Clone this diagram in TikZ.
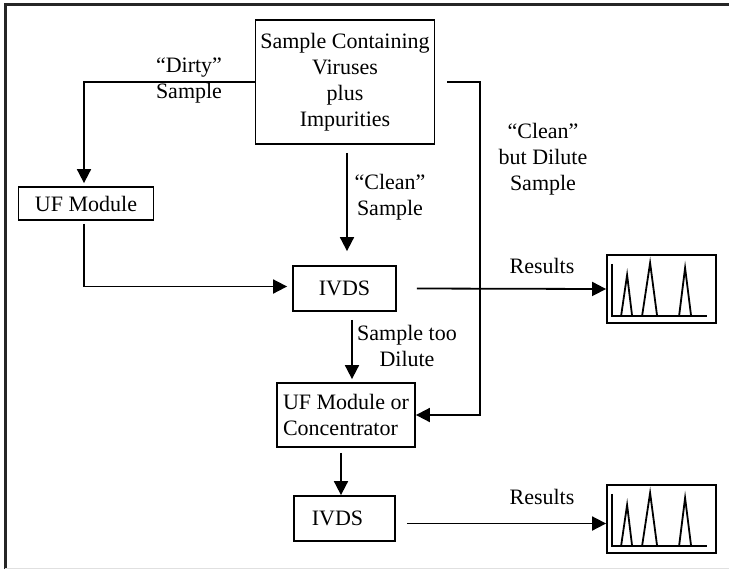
\documentclass[tikz,border=0pt]{standalone}
\usepackage{fontspec}
\setmainfont{Liberation Serif}
\usetikzlibrary{positioning,calc,arrows.meta}

\begin{document}
\begin{tikzpicture}[x=0.5pt,y=-0.5pt,
    box/.style={draw,line width=0.9pt,inner sep=0pt,font=\fontsize{11}{13}\selectfont,align=center},
    flow/.style={line width=0.9pt,-{Triangle[length=7pt,width=7pt]}},
    wire/.style={line width=0.9pt},
    lbl/.style={font=\fontsize{11}{13}\selectfont,align=center,inner sep=0pt}]
    \useasboundingbox (0,0) rectangle (729,569);
    % frame
    \draw[line width=1.5pt,black!85] (5,569) -- (5,4) -- (729,4);
    \draw[black!12] (5,568) -- (729,568);
    % boxes
    \node[box,minimum width=89.5pt,minimum height=62pt] (sample) at (345,82)
        {Sample Containing\\Viruses\\plus\\Impurities};
    \node[box,minimum width=67.5pt,minimum height=16.5pt] (ufa) at (86,203.5) {UF Module};
    \node[box,minimum width=51.5pt,minimum height=22.5pt] (ivdsa) at (344.5,288.5) {IVDS};
    \node[box,align=left,minimum width=69pt,minimum height=32pt] (ufb) at (346,415)
        {UF Module or\\Concentrator};
    \node[box,minimum width=50.5pt,minimum height=22.5pt] (ivdsb) at (344.5,518.5) {\hspace*{-7pt}IVDS};
    \node[box,minimum width=54.5pt,minimum height=34pt] (charta) at (661.5,289) {};
    \node[box,minimum width=54.5pt,minimum height=34pt] (chartb) at (661.5,519) {};
    % peaks
    \foreach \c in {charta,chartb} {
        \draw[wire] ($(\c.south west)+(6,-60)$) -- ++(0,52) -- ++(95,0);
        \draw[wire] ($(\c.south west)+(15,-8)$) -- ++(6,-41) -- ++(5,41);
        \draw[wire] ($(\c.south west)+(36,-8)$) -- ++(8,-53) -- ++(7,53);
        \draw[wire] ($(\c.south west)+(73,-8)$) -- ++(6,-48) -- ++(6,48);
    }
    % connectors
    \coordinate (bend) at (480,82);
    \draw[flow,shorten >=1.5pt] (sample.west) -| ([xshift=-1pt]ufa.north);
    \draw[flow,shorten <=1.5pt,shorten >=2.5pt] ([xshift=-1pt]ufa.south) |- ([yshift=1pt]ivdsa.west);
    \draw[flow,shorten <=4pt,shorten >=7pt] ([xshift=1pt]sample.south) -- ([xshift=1pt]sample.south |- ivdsa.north);
    \draw[flow] ([xshift=10pt]ivdsa.east) -- (charta.west);
    \draw[flow,shorten <=4pt,shorten >=1.5pt] ([xshift=3.75pt]ivdsa.south) -- ([xshift=3.75pt]ivdsa.south |- ufb.north);
    \draw[flow] ([xshift=6pt]sample.east) -- (bend) |- (ufb.east);
    \draw[flow,shorten <=2.5pt] ([xshift=-2.5pt]ufb.south) -- ([xshift=-2.5pt]ufb.south |- ivdsb.north);
    \draw[flow] ([xshift=5.5pt,yshift=-2.5pt]ivdsb.east) -- ([yshift=-2.5pt]ivdsb.east -| chartb.west);
    % labels
    \node[lbl] (dirty) at (189,81) {“Dirty”\\Sample};
    \node[lbl] (clean) at (390,197) {“Clean”\\Sample};
    \node[lbl] (cleandil) at (543,159) {“Clean”\\but Dilute\\Sample};
    \node[lbl] (resa) at (542,266) {Results};
    \node[lbl] (toodil) at (407,346) {Sample too\\Dilute};
    \node[lbl] (resb) at (542,497) {Results};
\end{tikzpicture}
\end{document}
